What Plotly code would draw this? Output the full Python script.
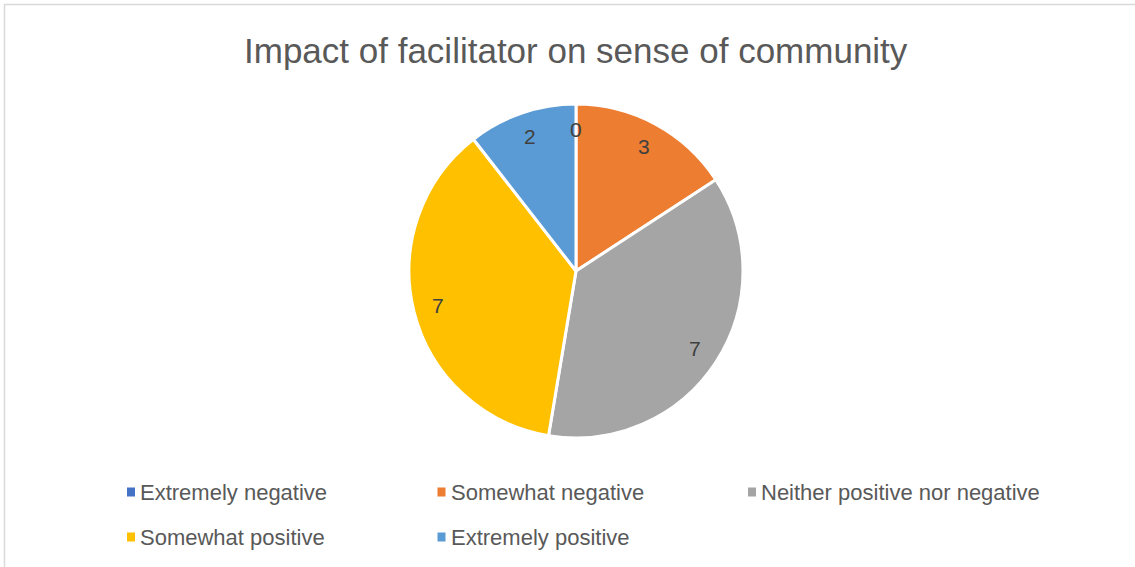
import math
import plotly.graph_objects as go

# Survey responses
categories = ["Extremely negative", "Somewhat negative", "Neither positive nor negative",
              "Somewhat positive", "Extremely positive"]
counts = [0, 3, 7, 7, 2]
colors = ["#4472C4", "#ED7D31", "#A5A5A5", "#FFC000", "#5B9BD5"]
title_text = "Impact of facilitator on sense of community"

W, H = 1135, 567
FONT = "Liberation Sans, Arial, sans-serif"
TEXT_GRAY = "#595959"

# pie geometry in pixels
cx, cy, R = 576, 271, 167


def px(x):
    return x / W


def py(y):
    return 1 - y / H


fig = go.Figure(go.Pie(
    labels=categories,
    values=counts,
    sort=False,
    direction="clockwise",
    rotation=0,
    marker=dict(colors=colors, line=dict(color="white", width=3)),
    textinfo="none",
    hoverinfo="label+value",
    showlegend=False,
    domain=dict(x=[px(cx - R), px(cx + R)], y=[py(cy + R), py(cy - R)]),
))

annotations = []
shapes = []

# value labels placed along each slice's mid-angle
total = sum(counts)
cum = 0
for v in counts:
    mid = (cum + v / 2) / total * 2 * math.pi
    cum += v
    r = 0.85 * R
    lx = cx + r * math.sin(mid)
    ly = cy - r * math.cos(mid)
    annotations.append(dict(x=px(lx), y=py(ly), xref="paper", yref="paper",
                            xanchor="center", yanchor="middle",
                            text=str(v), showarrow=False,
                            font=dict(family=FONT, size=21, color="#404040")))

# title
annotations.append(dict(x=px(576), y=py(50), xref="paper", yref="paper",
                        xanchor="center", yanchor="middle",
                        text=title_text, showarrow=False,
                        font=dict(family=FONT, size=35, color=TEXT_GRAY)))

# legend: three columns, two rows
col_x = [127, 437.5, 748]
row_y = [492, 537]
for i, (name, c) in enumerate(zip(categories, colors)):
    lx = col_x[i % 3]
    ly = row_y[i // 3]
    shapes.append(dict(type="rect", xref="paper", yref="paper",
                       x0=px(lx), x1=px(lx + 8),
                       y0=py(ly + 4.5), y1=py(ly - 4.5),
                       fillcolor=c, line=dict(width=0)))
    annotations.append(dict(x=px(lx + 11), y=py(ly), xref="paper", yref="paper",
                            text=name, showarrow=False,
                            xanchor="left", yanchor="middle",
                            font=dict(family=FONT, size=22, color=TEXT_GRAY)))

# chart frame
shapes.append(dict(type="rect", xref="paper", yref="paper",
                   x0=px(4.5), x1=px(W + 10), y0=py(H + 10), y1=py(4.5),
                   line=dict(color="#D9D9D9", width=1.5), fillcolor="rgba(0,0,0,0)"))

fig.update_layout(
    width=W, height=H, autosize=False,
    margin=dict(l=0, r=0, t=0, b=0),
    paper_bgcolor="white",
    annotations=annotations,
    shapes=shapes,
)

fig.write_html("out.html")
